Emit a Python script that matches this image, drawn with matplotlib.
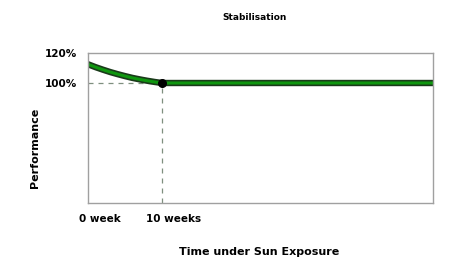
import matplotlib.pyplot as plt
import matplotlib.patheffects as pe
from matplotlib.transforms import ScaledTranslation

# Datos
semanas = [0, 1, 2, 3, 4, 5, 6, 7, 8, 9, 10, 46.6]
rendimiento = [112.5, 110.6, 108.9, 107.3, 105.9, 104.6, 103.4, 102.4, 101.5, 100.7, 100, 100]
xtick_pos = [0, 10]
xtick_labels = ['0 week', '10 weeks']
ytick_pos = [100, 120]
ytick_labels = ['100%', '120%']

fig = plt.figure(figsize=(4.72, 2.79), dpi=100)
ax = fig.add_axes([88/472, 1-203/279, (433-88)/472, (203-53)/279])

# Líneas guía discontinuas
ax.plot([0, 10], [100, 100], color='#7f8f7f', linestyle=(0, (4, 4)), linewidth=0.9, zorder=1)
ax.plot([10, 10], [20, 100], color='#7f8f7f', linestyle=(0, (4, 4)), linewidth=0.9, zorder=1)

# Curva
ax.plot(semanas, rendimiento, color='#0f960f', linewidth=2.2, zorder=2,
        path_effects=[pe.Stroke(linewidth=4.6, foreground='#1a3a1a'), pe.Normal()])
ax.plot([10], [100], 'o', color='black', markersize=5.5, zorder=3)

ax.set_xlim(0, 46.6)
ax.set_ylim(20, 120)

ax.set_xticks(xtick_pos)
ax.set_xticklabels(xtick_labels, fontsize=7.5, fontweight='bold')
ax.set_yticks(ytick_pos)
ax.set_yticklabels(ytick_labels, fontsize=7.5, fontweight='bold')
ax.tick_params(length=0, pad=8)
for lbl in ax.get_xticklabels():
    lbl.set_transform(lbl.get_transform() + ScaledTranslation(12/100, 0, fig.dpi_scale_trans))

for s in ax.spines.values():
    s.set_color('#a0a0a0')
    s.set_linewidth(1.0)

fig.text(255/472, 1-18/279, 'Stabilisation', ha='center', va='center', fontsize=6.5, fontweight='bold')
fig.text(259/472, 1-252/279, 'Time under Sun Exposure', ha='center', va='center', fontsize=8, fontweight='bold')
fig.text(35/472, 1-148/279, 'Performance', ha='center', va='center', rotation=90, fontsize=8, fontweight='bold')

fig.savefig('out.png', dpi=100)
